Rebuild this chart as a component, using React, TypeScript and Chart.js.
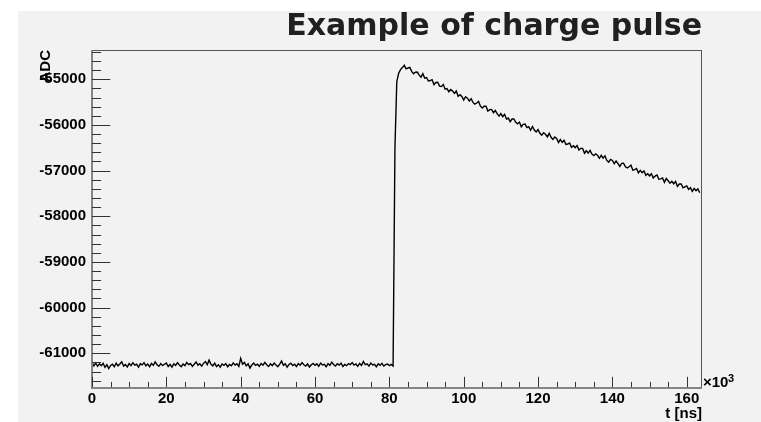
import React, { useEffect, useRef } from "react";
import { Chart, registerables } from "chart.js";

Chart.register(...registerables);

const TITLE = "Example of charge pulse";
const X_TITLE = "t [ns]";
const Y_TITLE = "ADC";
const X_MULT_BASE = "\u00d710";
const X_MULT_EXP = "3";

// time axis in units of 10^3 ns
const T_START = 0;
const T_STEP = 0.5;
const X_MIN = 0;
const X_MAX = 163.84;
const Y_MIN = -61760;
const Y_MAX = -54360;
const X_TICKS = [0, 20, 40, 60, 80, 100, 120, 140, 160];
const Y_TICKS = [-61000, -60000, -59000, -58000, -57000, -56000, -55000];
const X_MINOR_STEP = 5;
const Y_MINOR_STEP = 200;

// ADC samples, one every 0.5 x10^3 ns
const BASELINE_ADC = [
  -61200, -61275, -61215, -61285, -61230, -61270, -61220, -61310, -61250, -61335, -61265, -61240, -61295, -61215, -61275, -61235, -61185, -61280, -61245, -61300,
  -61225, -61270, -61205, -61260, -61240, -61305, -61230, -61255, -61205, -61275, -61235, -61295, -61220, -61265, -61190, -61250, -61285, -61225, -61270, -61240,
  -61215, -61290, -61245, -61305, -61230, -61265, -61205, -61255, -61295, -61235, -61270, -61200, -61250, -61225, -61285, -61240, -61190, -61260, -61230, -61280,
  -61220, -61180, -61250, -61150, -61240, -61275, -61215, -61290, -61250, -61305, -61235, -61265, -61225, -61295, -61245, -61275, -61210, -61260, -61230, -61285,
  -61110, -61240, -61200, -61275, -61230, -61325, -61255, -61215, -61265, -61240, -61285, -61225, -61260, -61200, -61250, -61290, -61230, -61270, -61215, -61255,
  -61295, -61235, -61170, -61265, -61230, -61305, -61245, -61215, -61270, -61240, -61290, -61225, -61260, -61205, -61250, -61280, -61235, -61300, -61250, -61220,
  -61265, -61230, -61285, -61215, -61255, -61240, -61295, -61225, -61265, -61195, -61245, -61280, -61230, -61260, -61215, -61290, -61245, -61270, -61225, -61250,
  -61205, -61260, -61235, -61285, -61220, -61265, -61180, -61250, -61230, -61280, -61215, -61255, -61240, -61295, -61230, -61265, -61220, -61280, -61250, -61235,
  -61270, -61245,
];
const RISE_ADC = [-61280, -56500, -55050, -54870, -54790, -54745];
const DECAY_ADC = [
  -54695, -54772, -54754, -54740, -54827, -54879, -54846, -54843, -54904, -54956, -54878, -54975,
  -54962, -55038, -55028, -55009, -55119, -55070, -55066, -55151, -55157, -55117, -55218, -55204, -55274, -55225, -55260, -55311, -55257, -55372, -55338, -55378,
  -55455, -55384, -55414, -55478, -55428, -55507, -55546, -55521, -55485, -55590, -55629, -55593, -55593, -55697, -55667, -55661, -55735, -55685, -55754, -55809,
  -55753, -55821, -55769, -55872, -55850, -55928, -55871, -55869, -55942, -55975, -55938, -56041, -55989, -55982, -56060, -56038, -56116, -56034, -56112, -56155,
  -56102, -56184, -56226, -56173, -56205, -56262, -56184, -56271, -56318, -56265, -56297, -56384, -56321, -56383, -56335, -56427, -56419, -56396, -56493, -56455,
  -56501, -56452, -56552, -56513, -56514, -56620, -56565, -56616, -56557, -56637, -56673, -56634, -56665, -56730, -56666, -56727, -56677, -56778, -56814, -56754,
  -56779, -56849, -56789, -56848, -56908, -56843, -56838, -56918, -56942, -56917, -56882, -56992, -56977, -56956, -57051, -56996, -57046, -57006, -57105, -57070,
  -57115, -57069, -57162, -57121, -57095, -57189, -57182, -57161, -57255, -57173, -57222, -57276, -57234, -57288, -57237, -57346, -57294, -57293, -57377, -57355,
  -57334, -57412, -57375, -57453, -57391, -57439, -57402, -57485,
];

const LABEL_FONT = { family: "'Liberation Sans', Arial, sans-serif", size: 15, weight: "bold" as const };

const rootStylePlugin = {
  id: "rootStyle",
  beforeDraw(chart: any) {
    const ctx = chart.ctx;
    ctx.save();
    ctx.fillStyle = "#ffffff";
    ctx.fillRect(0, 0, chart.width, chart.height);
    ctx.fillStyle = "#f2f2f2";
    ctx.fillRect(18, 11, chart.width - 18, chart.height - 11);
    ctx.restore();
  },
  afterDraw(chart: any) {
    const ctx = chart.ctx;
    const { left, right, top, bottom } = chart.chartArea;
    const xs = chart.scales.x;
    const ys = chart.scales.y;
    ctx.save();
    // frame
    ctx.fillStyle = "#555555";
    ctx.fillRect(left, top, right - left, 1);
    ctx.fillRect(right, top, 1, bottom - top + 1);
    ctx.fillStyle = "#858585";
    ctx.fillRect(left - 1, top, 2, bottom - top + 1);
    ctx.fillRect(left - 1, bottom - 1, right - left + 2, 2);
    // ticks
    ctx.strokeStyle = "#333333";
    ctx.lineWidth = 1;
    ctx.beginPath();
    const yLen = (right - left) * 0.03;
    const yStart = Math.ceil(Y_MIN / Y_MINOR_STEP) * Y_MINOR_STEP;
    for (let v = yStart; v <= Y_MAX; v += Y_MINOR_STEP) {
      const py = Math.round(ys.getPixelForValue(v)) + 0.5;
      const len = v % 1000 === 0 ? yLen : yLen / 2;
      ctx.moveTo(left, py);
      ctx.lineTo(left + len, py);
    }
    const xLen = (bottom - top) * 0.03;
    for (let v = X_MIN; v <= X_MAX; v += X_MINOR_STEP) {
      const px = Math.round(xs.getPixelForValue(v)) + 0.5;
      const len = v % 20 === 0 ? xLen : xLen / 2;
      ctx.moveTo(px, bottom - 1);
      ctx.lineTo(px, bottom - 1 - len);
    }
    ctx.stroke();

    // title
    ctx.fillStyle = "#202020";
    ctx.font = "bold 30px 'DejaVu Sans', sans-serif";
    ctx.textAlign = "right";
    ctx.textBaseline = "alphabetic";
    ctx.fillText(TITLE, 702, 35);

    // axis titles
    ctx.fillStyle = "#000000";
    ctx.font = "bold 15px 'Liberation Sans', Arial, sans-serif";
    ctx.textAlign = "right";
    ctx.fillText(X_TITLE, right + 1, 418);

    ctx.save();
    ctx.translate(49.5, top);
    ctx.rotate(-Math.PI / 2);
    ctx.textAlign = "right";
    ctx.fillText(Y_TITLE, 0, 0);
    ctx.restore();

    // exponent
    ctx.textAlign = "left";
    ctx.font = "bold 15px 'Liberation Sans', Arial, sans-serif";
    ctx.fillText(X_MULT_BASE, 703, 387);
    ctx.font = "bold 11px 'Liberation Sans', Arial, sans-serif";
    ctx.fillText(X_MULT_EXP, 728, 381.5);
    ctx.restore();
  },
};

export default function App() {
  const ref = useRef<HTMLCanvasElement | null>(null);

  useEffect(() => {
    document.body.style.margin = "0";
    const canvas = ref.current;
    if (!canvas) return;
    const adc = [...BASELINE_ADC, ...RISE_ADC, ...DECAY_ADC];
    const points = adc.map((v, i) => ({ x: T_START + i * T_STEP, y: v }));

    const chart = new Chart(canvas, {
      type: "line",
      data: {
        datasets: [
          {
            data: points,
            borderColor: "#000000",
            borderWidth: 1.4,
            pointRadius: 0,
            tension: 0,
            fill: false,
          },
        ],
      },
      options: {
        responsive: false,
        animation: false,
        devicePixelRatio: 1,
        layout: { padding: { top: 50, right: 60, left: 0, bottom: 0 } },
        plugins: {
          legend: { display: false },
          tooltip: { enabled: false },
          title: { display: false },
        },
        scales: {
          x: {
            type: "linear",
            min: X_MIN,
            max: X_MAX,
            grid: { display: false, drawTicks: false },
            border: { display: false },
            ticks: {
              font: LABEL_FONT,
              color: "#000000",
              padding: 2,
              maxRotation: 0,
              autoSkip: false,
              callback: (v: any) => String(v),
            },
            afterBuildTicks: (s: any) => {
              s.ticks = X_TICKS.map((v) => ({ value: v }));
            },
            afterFit: (s: any) => {
              s.height = 34;
            },
          },
          y: {
            type: "linear",
            min: Y_MIN,
            max: Y_MAX,
            grid: { display: false, drawTicks: false },
            border: { display: false },
            ticks: {
              font: LABEL_FONT,
              color: "#000000",
              padding: 6,
              autoSkip: false,
              callback: (v: any) => String(v),
            },
            afterBuildTicks: (s: any) => {
              s.ticks = Y_TICKS.map((v) => ({ value: v }));
            },
            afterFit: (s: any) => {
              s.width = 92;
            },
          },
        },
      },
      plugins: [rootStylePlugin],
    });
    return () => chart.destroy();
  }, []);

  return <canvas ref={ref} width={761} height={422} style={{ display: "block" }} />;
}
